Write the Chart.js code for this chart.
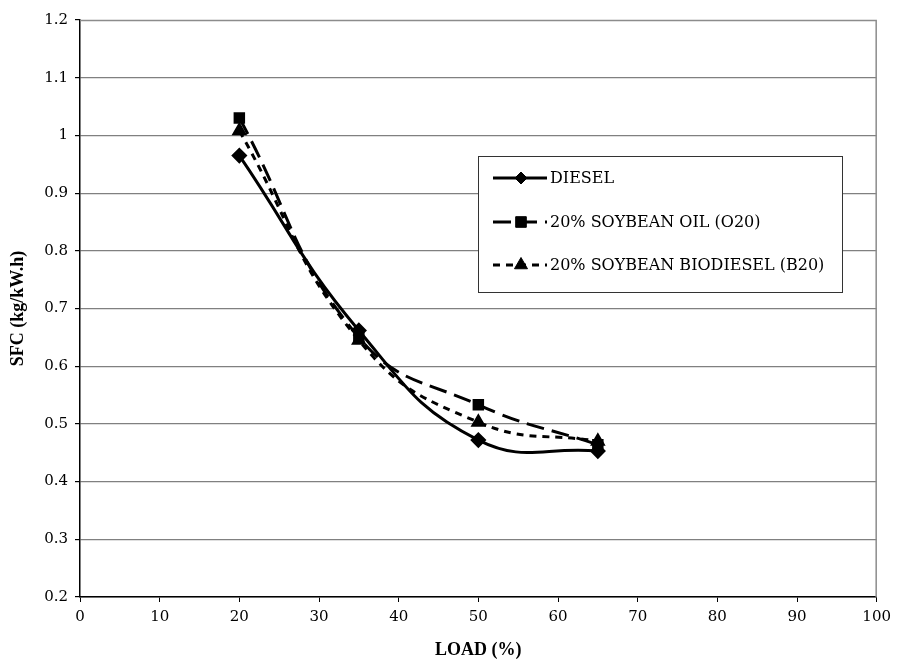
<!DOCTYPE html>
<html>
<head>
<meta charset="utf-8">
<script src="https://cdn.jsdelivr.net/npm/chart.js@4"></script>
<style>
  html, body { margin: 0; padding: 0; background: #fff; }
  #wrap { width: 897px; height: 663px; }
</style>
</head>
<body>
<div id="wrap"><canvas id="chart1"></canvas></div>
<script>
// Data
const loads = [20, 35, 50, 65];
const diesel = [0.965, 0.662, 0.472, 0.453];
const o20 = [1.030, 0.650, 0.533, 0.464];
const b20 = [1.008, 0.645, 0.503, 0.470];
const yTicks = [0.2, 0.3, 0.4, 0.5, 0.6, 0.7, 0.8, 0.9, 1.0, 1.1, 1.2];

const SERIF = "'Liberation Serif', 'DejaVu Serif', serif";
const WIDE_SERIF = "'DejaVu Serif', 'Liberation Serif', serif";

function pts(ys) {
  return loads.map((x, i) => ({ x: x, y: ys[i] }));
}

// Draws the gray top/right frame and the legend box inside the plot
const framePlugin = {
  id: "frame",
  afterDraw(chart) {
    const ctx = chart.ctx;
    const a = chart.chartArea;
    ctx.save();
    ctx.strokeStyle = "#8c8c8c";
    ctx.lineWidth = 1.5;
    ctx.beginPath();
    ctx.moveTo(a.left, a.top + 0.5);
    ctx.lineTo(a.right - 0.5, a.top + 0.5);
    ctx.lineTo(a.right - 0.5, a.bottom);
    ctx.stroke();

    // legend
    const bx = 478, by = 156, bw = 364, bh = 136;
    ctx.fillStyle = "#fff";
    ctx.fillRect(bx, by, bw, bh);
    ctx.strokeStyle = "#333";
    ctx.lineWidth = 1;
    ctx.strokeRect(bx + 0.5, by + 0.5, bw, bh);
    const rows = [178, 222, 265];
    const sizes = [6, 7.5, 7.5];
    chart.data.datasets.forEach((ds, i) => {
      const y = rows[i];
      ctx.strokeStyle = "#000";
      ctx.fillStyle = "#000";
      ctx.lineWidth = ds.borderWidth;
      ctx.setLineDash(ds.borderDash || []);
      ctx.beginPath();
      ctx.moveTo(493, y);
      ctx.lineTo(547, y);
      ctx.stroke();
      ctx.setLineDash([]);
      ctx.lineWidth = 1;
      Chart.helpers.drawPoint(ctx, {
        pointStyle: ds.pointStyle,
        radius: sizes[i],
        rotation: 0,
        borderWidth: 1
      }, 521, y);
      ctx.font = "16px " + WIDE_SERIF;
      ctx.textBaseline = "middle";
      ctx.textAlign = "left";
      ctx.fillText(ds.label, 550, y + 1);
    });
    ctx.restore();
  }
};

const ctx1 = document.getElementById("chart1").getContext("2d");
const chart1 = new Chart(ctx1, {
  type: "line",
  data: {
    datasets: [
      {
        label: "DIESEL",
        data: pts(diesel),
        borderColor: "#000",
        backgroundColor: "#000",
        borderWidth: 3,
        pointStyle: "rectRot",
        pointRadius: 6,
        pointBackgroundColor: "#000",
        pointBorderColor: "#000",
        tension: 0.45
      },
      {
        label: "20% SOYBEAN OIL (O20)",
        data: pts(o20),
        borderColor: "#000",
        backgroundColor: "#000",
        borderWidth: 3,
        borderDash: [18, 8],
        pointStyle: "rect",
        pointRadius: 6,
        pointBackgroundColor: "#000",
        pointBorderColor: "#000",
        tension: 0.45
      },
      {
        label: "20% SOYBEAN BIODIESEL (B20)",
        data: pts(b20),
        borderColor: "#000",
        backgroundColor: "#000",
        borderWidth: 3,
        borderDash: [7, 6],
        pointStyle: "triangle",
        pointRadius: 6,
        pointBackgroundColor: "#000",
        pointBorderColor: "#000",
        tension: 0.45
      }
    ]
  },
  options: {
    responsive: true,
    maintainAspectRatio: false,
    animation: false,
    layout: { padding: { top: 20, right: 19, left: 0, bottom: 0 } },
    plugins: {
      legend: { display: false },
      tooltip: { enabled: false }
    },
    scales: {
      x: {
        type: "linear",
        min: 0,
        max: 100,
        afterFit(s) { s.height = 66; },
        ticks: {
          stepSize: 10,
          color: "#000",
          font: { family: WIDE_SERIF, size: 15 },
          padding: 6
        },
        grid: { drawOnChartArea: false, drawTicks: true, tickLength: 5, color: "#000" },
        border: { color: "#000", width: 1.5 },
        title: {
          display: true,
          text: "LOAD (%)",
          color: "#000",
          font: { family: SERIF, size: 18, weight: "bold" },
          padding: { top: 0, bottom: 2 }
        }
      },
      y: {
        min: 0.2,
        max: 1.2,
        afterFit(s) { s.width = 80; },
        afterBuildTicks(s) { s.ticks = yTicks.map(v => ({ value: v })); },
        ticks: {
          color: "#000",
          font: { family: WIDE_SERIF, size: 15 },
          padding: 7,
          callback: v => String(Number(v.toFixed(1)))
        },
        grid: {
          color: ctx => ctx.tick && ctx.tick.value === 1.2 ? "rgba(0,0,0,0)" : "#808080",
          tickColor: "#000",
          lineWidth: 1.2,
          tickLength: 5
        },
        border: { color: "#000", width: 1.5 },
        title: {
          display: true,
          text: "SFC (kg/kW.h)",
          color: "#000",
          font: { family: SERIF, size: 18, weight: "bold" },
          padding: { top: 8, bottom: 0 }
        }
      }
    }
  },
  plugins: [framePlugin]
});
</script>
</body>
</html>
